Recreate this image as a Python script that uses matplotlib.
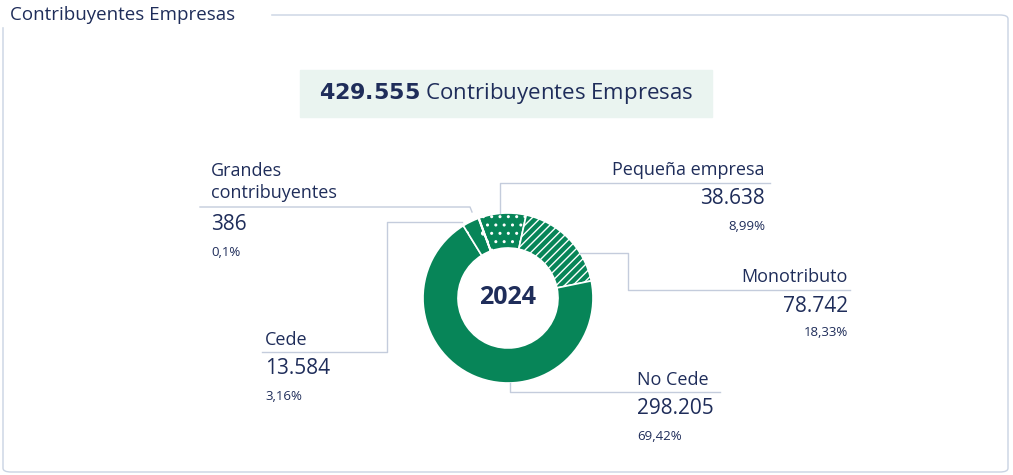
import matplotlib
matplotlib.use("Agg")
import matplotlib.pyplot as plt
from matplotlib.patches import FancyBboxPatch, Rectangle
from matplotlib.lines import Line2D

plt.rcParams["font.family"] = "Open Sans"
W, H = 1013, 475
total_label = "429.555"
categories = ["Pequeña empresa", "Monotributo", "No Cede", "Cede", "Grandes\ncontribuyentes"]
values = [38638, 78742, 298205, 13584, 386]
value_labels = ["38.638", "78.742", "298.205", "13.584", "386"]
pct_labels = ["8,99%", "18,33%", "69,42%", "3,16%", "0,1%"]
hatches = ["..", "////", None, ".", "."]

NAVY = "#1f2d5a"; GREEN = "#078558"; LINE = "#c4ccdc"
fig = plt.figure(figsize=(W/100, H/100), dpi=100)
def P(x, y): return (x/W, 1-y/H)
def T(x, y, s, **kw):
    fig.text(*P(x, y), s, color=NAVY, va="center", **kw)
def L(xs, ys):
    fig.add_artist(Line2D([x/W for x in xs], [1-y/H for y in ys], color=LINE, lw=1))

# frame
fig.add_artist(FancyBboxPatch(P(3, 472), 1005/W, 457/H, boxstyle="round,pad=0,rounding_size=0.008",
                              fill=False, ec="#c9d3e3", lw=1, transform=fig.transFigure))
fig.add_artist(Rectangle(P(0, 26), 270/W, 26/H, color="white", transform=fig.transFigure))
T(10, 15, "Contribuyentes Empresas", fontsize=13.5)
fig.add_artist(Rectangle(P(300, 117), 412/W, 47/H, color="#eaf4f0", transform=fig.transFigure))
fig.text(*P(506, 94), f"$\\bf{{{total_label}}}$ Contribuyentes Empresas", color=NAVY,
         fontsize=16, ha="center", va="center")

# donut
R = 85
ax = fig.add_axes([(508-R-5)/W, 1-(298+R+5)/H, (2*R+10)/W, (2*R+10)/H])
wedges, _ = ax.pie(values, startangle=110, counterclock=False, radius=R/(R+5),
                   wedgeprops=dict(width=35/(R+5), edgecolor="white", linewidth=1.2))
for w, h in zip(wedges, hatches):
    w.set_facecolor(GREEN)
    if h:
        w.set_hatch(h)
plt.rcParams["hatch.color"] = "white"
for w in wedges:
    w._hatch_color = (1, 1, 1, 1)
ax.set_xlim(-1, 1); ax.set_ylim(-1, 1); ax.set_aspect("equal"); ax.axis("off")
T(508, 298, "2024", fontsize=18, fontweight="bold", ha="center")

# leaders
L([200, 470, 472], [207, 207, 212])
L([500, 500, 770], [213, 183, 183])
L([580, 628, 628, 850], [253, 253, 290, 290])
L([262, 387, 387, 462], [352, 352, 222, 222])
L([510, 510, 720], [383, 392, 392])

# labels: (x, y_name, ha)
pos = [(765, 170, "right"), (848, 277, "right"), (637, 380, "left"), (265, 340, "left"), (211, 182, "left")]
for i, (x, y, ha) in enumerate(pos):
    if i == 4:
        T(x, y, categories[i], fontsize=13, ha=ha, linespacing=1.3)
        yv = 225
    else:
        T(x, y, categories[i], fontsize=13, ha=ha)
        yv = y + 29
    T(x, yv, value_labels[i], fontsize=15, ha=ha)
    T(x, yv + 27, pct_labels[i], fontsize=9.5, ha=ha)

fig.savefig("out.png", dpi=100)
